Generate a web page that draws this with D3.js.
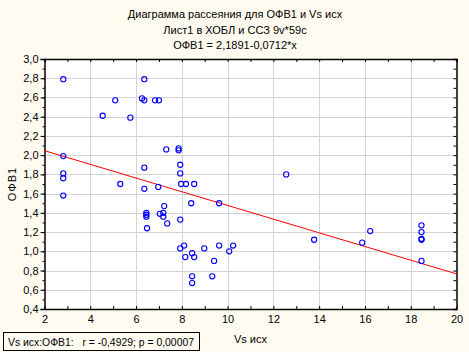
<!DOCTYPE html>
<html><head><meta charset="utf-8">
<script src="https://cdn.jsdelivr.net/npm/d3@7"></script>
<style>
body{margin:0;background:#fffbf0;}
svg{display:block;font-family:"Liberation Sans",Arial,sans-serif;}
</style></head>
<body><svg id="c" width="469" height="352"></svg>
<script>
const titleLines = ["Диаграмма рассеяния для ОФВ1 и Vs исх","Лист1 в ХОБЛ и ССЗ 9v*59c","ОФВ1 = 2,1891-0,0712*x"];
const xLabel = "Vs исх";
const yLabel = "ОФВ1";
const footer = "Vs исх:ОФВ1:   r = -0,4929; p = 0,00007";
const xTicks = [2,4,6,8,10,12,14,16,18,20];
const yTicks = [0.4,0.6,0.8,1.0,1.2,1.4,1.6,1.8,2.0,2.2,2.4,2.6,2.8,3.0];
const regIntercept = 2.1891;
const regSlope = -0.0712;
const vsX = [2.82,2.82,2.82,2.82,2.82,4.54,5.09,5.75,5.31,6.26,6.36,6.36,6.36,6.36,6.83,7.00,6.97,7.32,7.86,7.86,7.93,7.93,12.56,7.97,8.18,8.54,6.45,6.45,6.45,6.48,7.04,7.23,7.19,7.19,7.36,7.93,8.41,9.63,7.93,8.10,8.15,8.45,8.54,8.98,9.63,9.41,10.07,10.24,8.45,8.45,9.33,13.78,15.88,16.23,18.47,18.47,18.47,18.47,18.47];
const ofv1 = [2.79,1.99,1.81,1.76,1.58,2.41,2.57,2.39,1.70,2.59,2.57,2.79,1.87,1.65,2.57,2.57,1.67,2.06,2.07,2.05,1.90,1.81,1.80,1.70,1.70,1.70,1.40,1.38,1.36,1.24,1.39,1.47,1.40,1.36,1.29,1.33,1.50,1.50,1.03,1.06,0.94,0.98,0.94,1.03,1.06,0.90,1.00,1.06,0.74,0.67,0.74,1.12,1.09,1.21,1.27,1.20,1.13,1.12,0.90];

const svg = d3.select("#c");
const L=44.5, R=456.5, T=59, B=309;
const x = d3.scaleLinear().domain([2,20]).range([L,R]);
const y = d3.scaleLinear().domain([0.4,3.0]).range([B,T]);
const fmt = d3.format(".1f");
const comma = v => fmt(v).replace(".", ",");

svg.append("rect").attr("x",L).attr("y",T).attr("width",R-L).attr("height",B-T).attr("fill","#fff");

// grid
const g = svg.append("g").attr("stroke","#d3d3d3").attr("stroke-width",1);
xTicks.slice(1,-1).forEach(t=>g.append("line").attr("x1",Math.round(x(t))+0.5).attr("x2",Math.round(x(t))+0.5).attr("y1",T).attr("y2",B));
yTicks.slice(1,-1).forEach(t=>g.append("line").attr("y1",Math.round(y(t))+0.5).attr("y2",Math.round(y(t))+0.5).attr("x1",L).attr("x2",R));

// axes
const xMinor = d3.range(2,20.01,1);
const yMinor = d3.range(0.4,3.001,0.1);
svg.append("g").attr("transform",`translate(0,${B})`)
  .call(d3.axisBottom(x).tickValues(xTicks).tickFormat(d3.format("d")).tickSize(0).tickPadding(6));
svg.append("g").attr("transform",`translate(0,${B})`)
  .call(d3.axisBottom(x).tickValues(xMinor).tickFormat("").tickSize(-3)).select(".domain").remove();
svg.append("g").attr("transform",`translate(${L},0)`)
  .call(d3.axisLeft(y).tickValues(yTicks).tickFormat(comma).tickSize(4).tickPadding(2));
svg.append("g").attr("transform",`translate(${L},0)`)
  .call(d3.axisLeft(y).tickValues(yMinor).tickFormat("").tickSize(2)).select(".domain").remove();
svg.append("g").attr("transform",`translate(0,${T})`)
  .call(d3.axisTop(x).tickValues(xMinor).tickFormat("").tickSize(-3));
svg.append("g").attr("transform",`translate(${R},0)`)
  .call(d3.axisRight(y).tickValues(yMinor).tickFormat("").tickSize(-3));
svg.selectAll(".domain").attr("stroke","#000").attr("stroke-width",1.5);
svg.selectAll(".tick line").attr("stroke","#000");
svg.selectAll(".tick text").attr("font-size","11px").attr("fill","#000").attr("font-family","Liberation Sans, Arial, sans-serif");

// regression line
svg.append("line")
  .attr("x1",x(2)).attr("y1",y(regIntercept+regSlope*2))
  .attr("x2",x(20)).attr("y2",y(regIntercept+regSlope*20))
  .attr("stroke","#ff0000").attr("stroke-width",1);

// points
svg.append("g").selectAll("circle").data(vsX.map((v,i)=>[v,ofv1[i]])).join("circle")
  .attr("cx",d=>x(d[0])).attr("cy",d=>y(d[1])).attr("r",2.6)
  .attr("fill","none").attr("stroke","#0000ff").attr("stroke-width",1.1);

// titles
titleLines.forEach((t,i)=>svg.append("text").attr("x",235).attr("y",18+i*15.5)
  .attr("text-anchor","middle").attr("font-size","11px").text(t));
svg.append("text").attr("x",(L+R)/2).attr("y",343).attr("text-anchor","middle").attr("font-size","11px").text(xLabel);
svg.append("text").attr("transform",`translate(16,${(T+B)/2}) rotate(-90)`).attr("text-anchor","middle")
  .attr("font-size","11px").attr("letter-spacing","1px").text(yLabel);

// footer box
svg.append("rect").attr("x",3.5).attr("y",332.5).attr("width",196).attr("height",18).attr("fill","#fffbf0").attr("stroke","#000");
svg.append("text").attr("x",8).attr("y",345.5).attr("font-size","10.5px").style("white-space","pre")
  .attr("textLength",186).attr("lengthAdjust","spacingAndGlyphs").text(footer);
</script></body></html>
